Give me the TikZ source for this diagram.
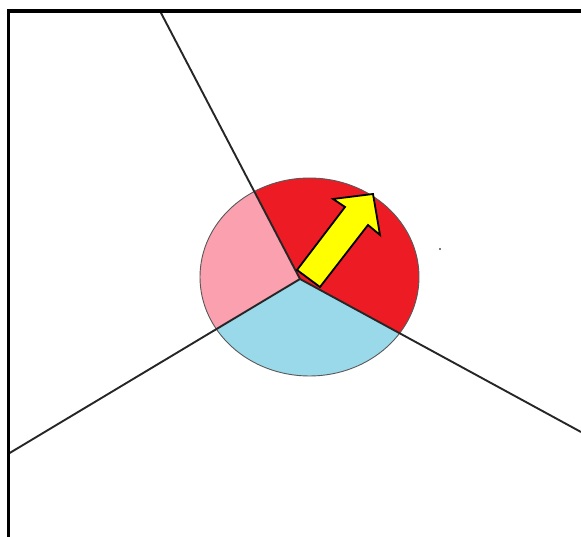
\documentclass[tikz,border=0pt]{standalone}
\definecolor{secred}{RGB}{237,28,36}
\definecolor{secpink}{RGB}{250,160,174}
\definecolor{secblue}{RGB}{153,217,234}
\definecolor{arrowyellow}{RGB}{255,255,0}
\begin{document}
\begin{tikzpicture}[x=1pt,y=-1pt,
  spoke/.style={line width=1.9pt,black!85},
  rim/.style={line width=0.9pt,black!65},
  frameline/.style={line width=3.2pt,black}]
\useasboundingbox (0,0) rectangle (581,537);
\coordinate (V) at (300,279);
\coordinate (T) at (160,11);
\coordinate (L) at (8,454);
\coordinate (R) at (581,432);
\coordinate (C) at (309.5,277);
% sectors
\begin{scope}
  \clip (C) ellipse [x radius=109.5, y radius=99];
  \fill[secblue] (C) ellipse [x radius=109.5, y radius=99];
  \fill[secpink] (V) -- (T) -- (0,0) -- (0,537) -- (L) -- cycle;
  \fill[secred] (V) -- (T) -- (581,0) -- (R) -- cycle;
\end{scope}
\draw[rim] (C) ellipse [x radius=109.5, y radius=99];
% spokes
\draw[spoke] (V) -- (T);
\draw[spoke] (V) -- (L);
\draw[spoke] (V) -- (R);
% arrow
\draw[fill=arrowyellow, line width=1.8pt, line join=miter]
  (297,270) -- (345,207) -- (333,199) -- (373,194) -- (380,235) -- (368,225) -- (320,287) -- cycle;
% dot
\fill[black!70] (440,249) circle (1.2);
% frame
\draw[frameline] (8.5,537) -- (8.5,11) -- (581,11);
\end{tikzpicture}
\end{document}
